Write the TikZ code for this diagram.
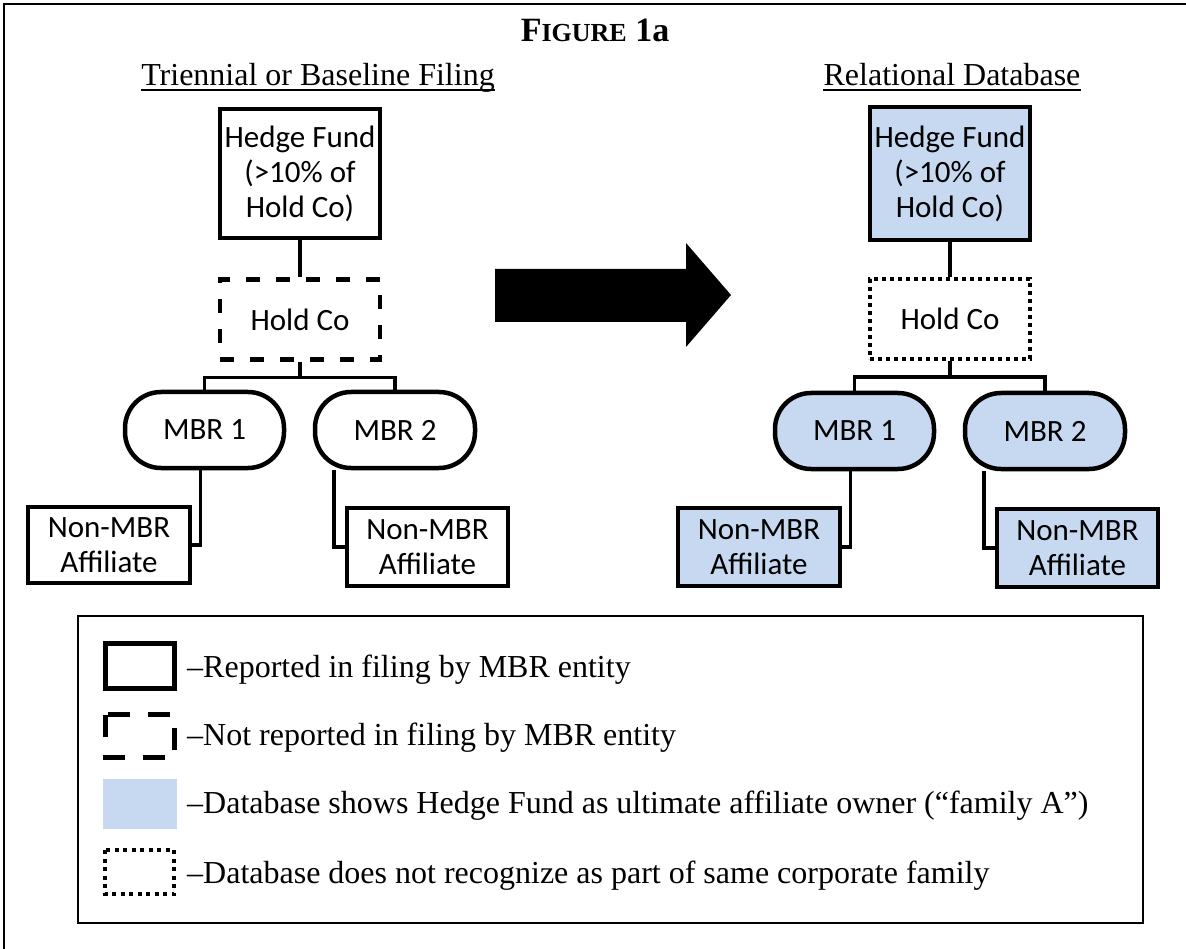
\documentclass[tikz,border=0pt]{standalone}
\usepackage{fontspec}
\setmainfont{Liberation Serif}
\newfontfamily\boxfont{Carlito}
\usetikzlibrary{positioning}
\definecolor{dbblue}{RGB}{198,217,241}

\begin{document}
\begin{tikzpicture}[x=1pt, y=-1pt, node distance=37pt,
    every node/.style={inner sep=0pt},
    ent/.style={draw, line width=4.5pt, minimum width=160pt, align=center,
                font=\boxfont\fontsize{31}{35}\selectfont},
    dashbox/.style={ent, dash pattern=on 14pt off 16pt},
    dotbox/.style={ent, line width=4pt, dash pattern=on 4pt off 4pt},
    mbr/.style={ent, rounded corners=36pt, minimum height=76pt},
    link/.style={line width=3.5pt},
    heading/.style={anchor=base, font=\fontsize{32}{38}\selectfont},
    lgtext/.style={anchor=base west, font=\fontsize{32}{38}\selectfont}]
  \useasboundingbox (0,0) rectangle (1186,949);
  \draw[line width=1.5pt] (4,949) -- (4,4) -- (1186,4);

  % titles
  \node (fig) [anchor=base] at (595,42)
    {\bfseries\fontsize{34}{40}\selectfont F{\fontsize{26}{30}\selectfont IGURE} 1a};
  \node (trn) [heading] at (318,86) {Triennial or Baseline Filing};
  \node (rdb) [heading] at (952,86) {Relational Database};
  \draw[line width=1.5pt] ([yshift=-4pt]trn.base west) -- ([yshift=-4pt]trn.base east);
  \draw[line width=1.5pt] ([yshift=-4pt]rdb.base west) -- ([yshift=-4pt]rdb.base east);

  % filing
  \node (hfL) [ent, minimum height=129pt] at (300,173.5) {Hedge Fund\\(>10\% of\\Hold Co)};
  \node (hcL) [dashbox, minimum height=80pt, below=of hfL] {Hold Co};
  \node (mbr1L) [mbr, minimum width=159pt] at (204.5,430) {MBR 1};
  \node (mbr2L) [mbr] at (395,430) {MBR 2};
  \node (nm1L) [ent, minimum width=162pt, minimum height=76pt] at (109,545) {Non-MBR\\Affiliate};
  \node (nm2L) [ent, minimum width=161pt, minimum height=78pt] at (427.5,547) {Non-MBR\\Affiliate};
  \draw[link] (hfL) -- (hcL);
  \draw[link] (hcL.south) -- ++(0,16) -| (mbr1L.north);
  \draw[link] (hcL.south) ++(0,16) -| (mbr2L.north);
  \draw[link] ([xshift=-4pt]mbr1L.south) |- (nm1L.east);
  \draw[link] ([xshift=21pt]mbr2L.south west) |- (nm2L.west);

  \fill (495,269) -- (686,269) -- (686,243) -- (731,295) -- (686,347) -- (686,322) -- (495,322) -- cycle;

  % database
  \node (hfR) [ent, fill=dbblue, minimum height=133pt] at (950,173.5) {Hedge Fund\\(>10\% of\\Hold Co)};
  \node (hcR) [dotbox, minimum height=80pt, below=35pt of hfR] {Hold Co};
  \node (mbr1R) [mbr, fill=dbblue, minimum width=159pt] at (854.5,431) {MBR 1};
  \node (mbr2R) [mbr, fill=dbblue] at (1045,431) {MBR 2};
  \node (nm1R) [ent, fill=dbblue, minimum width=162pt, minimum height=78pt] at (759,547) {Non-MBR\\Affiliate};
  \node (nm2R) [ent, fill=dbblue, minimum width=161pt, minimum height=78pt] at (1077.5,548) {Non-MBR\\Affiliate};
  \draw[link] (hfR) -- (hcR);
  \draw[link] (hcR.south) -- ++(0,16) -| (mbr1R.north);
  \draw[link] (hcR.south) ++(0,16) -| (mbr2R.north);
  \draw[link] ([xshift=-4pt]mbr1R.south) |- (nm1R.east);
  \draw[link] ([xshift=21pt]mbr2R.south west) |- (nm2R.west);

  % legend
  \draw[line width=1.5pt] (78,616) rectangle (1143,923);
  \draw[line width=5pt] (105.5,643.5) rectangle (174.5,688.5);
  \draw[line width=5pt, dash pattern=on 22pt off 18pt] (105.5,714.5) rectangle (174.5,757.5);
  \fill[dbblue] (103,779) rectangle (177,829);
  \draw[line width=4pt, dash pattern=on 4pt off 4.5pt] (105,850) rectangle (174,894);
  \node (lg1) [lgtext] at (187,677) {–Reported in filing by MBR entity};
  \node (lg2) [lgtext] at (187,745) {–Not reported in filing by MBR entity};
  \node (lg3) [lgtext] at (187,813) {–Database shows Hedge Fund as ultimate affiliate owner (“family A”)};
  \node (lg4) [lgtext] at (187,883) {–Database does not recognize as part of same corporate family};
\end{tikzpicture}
\end{document}
